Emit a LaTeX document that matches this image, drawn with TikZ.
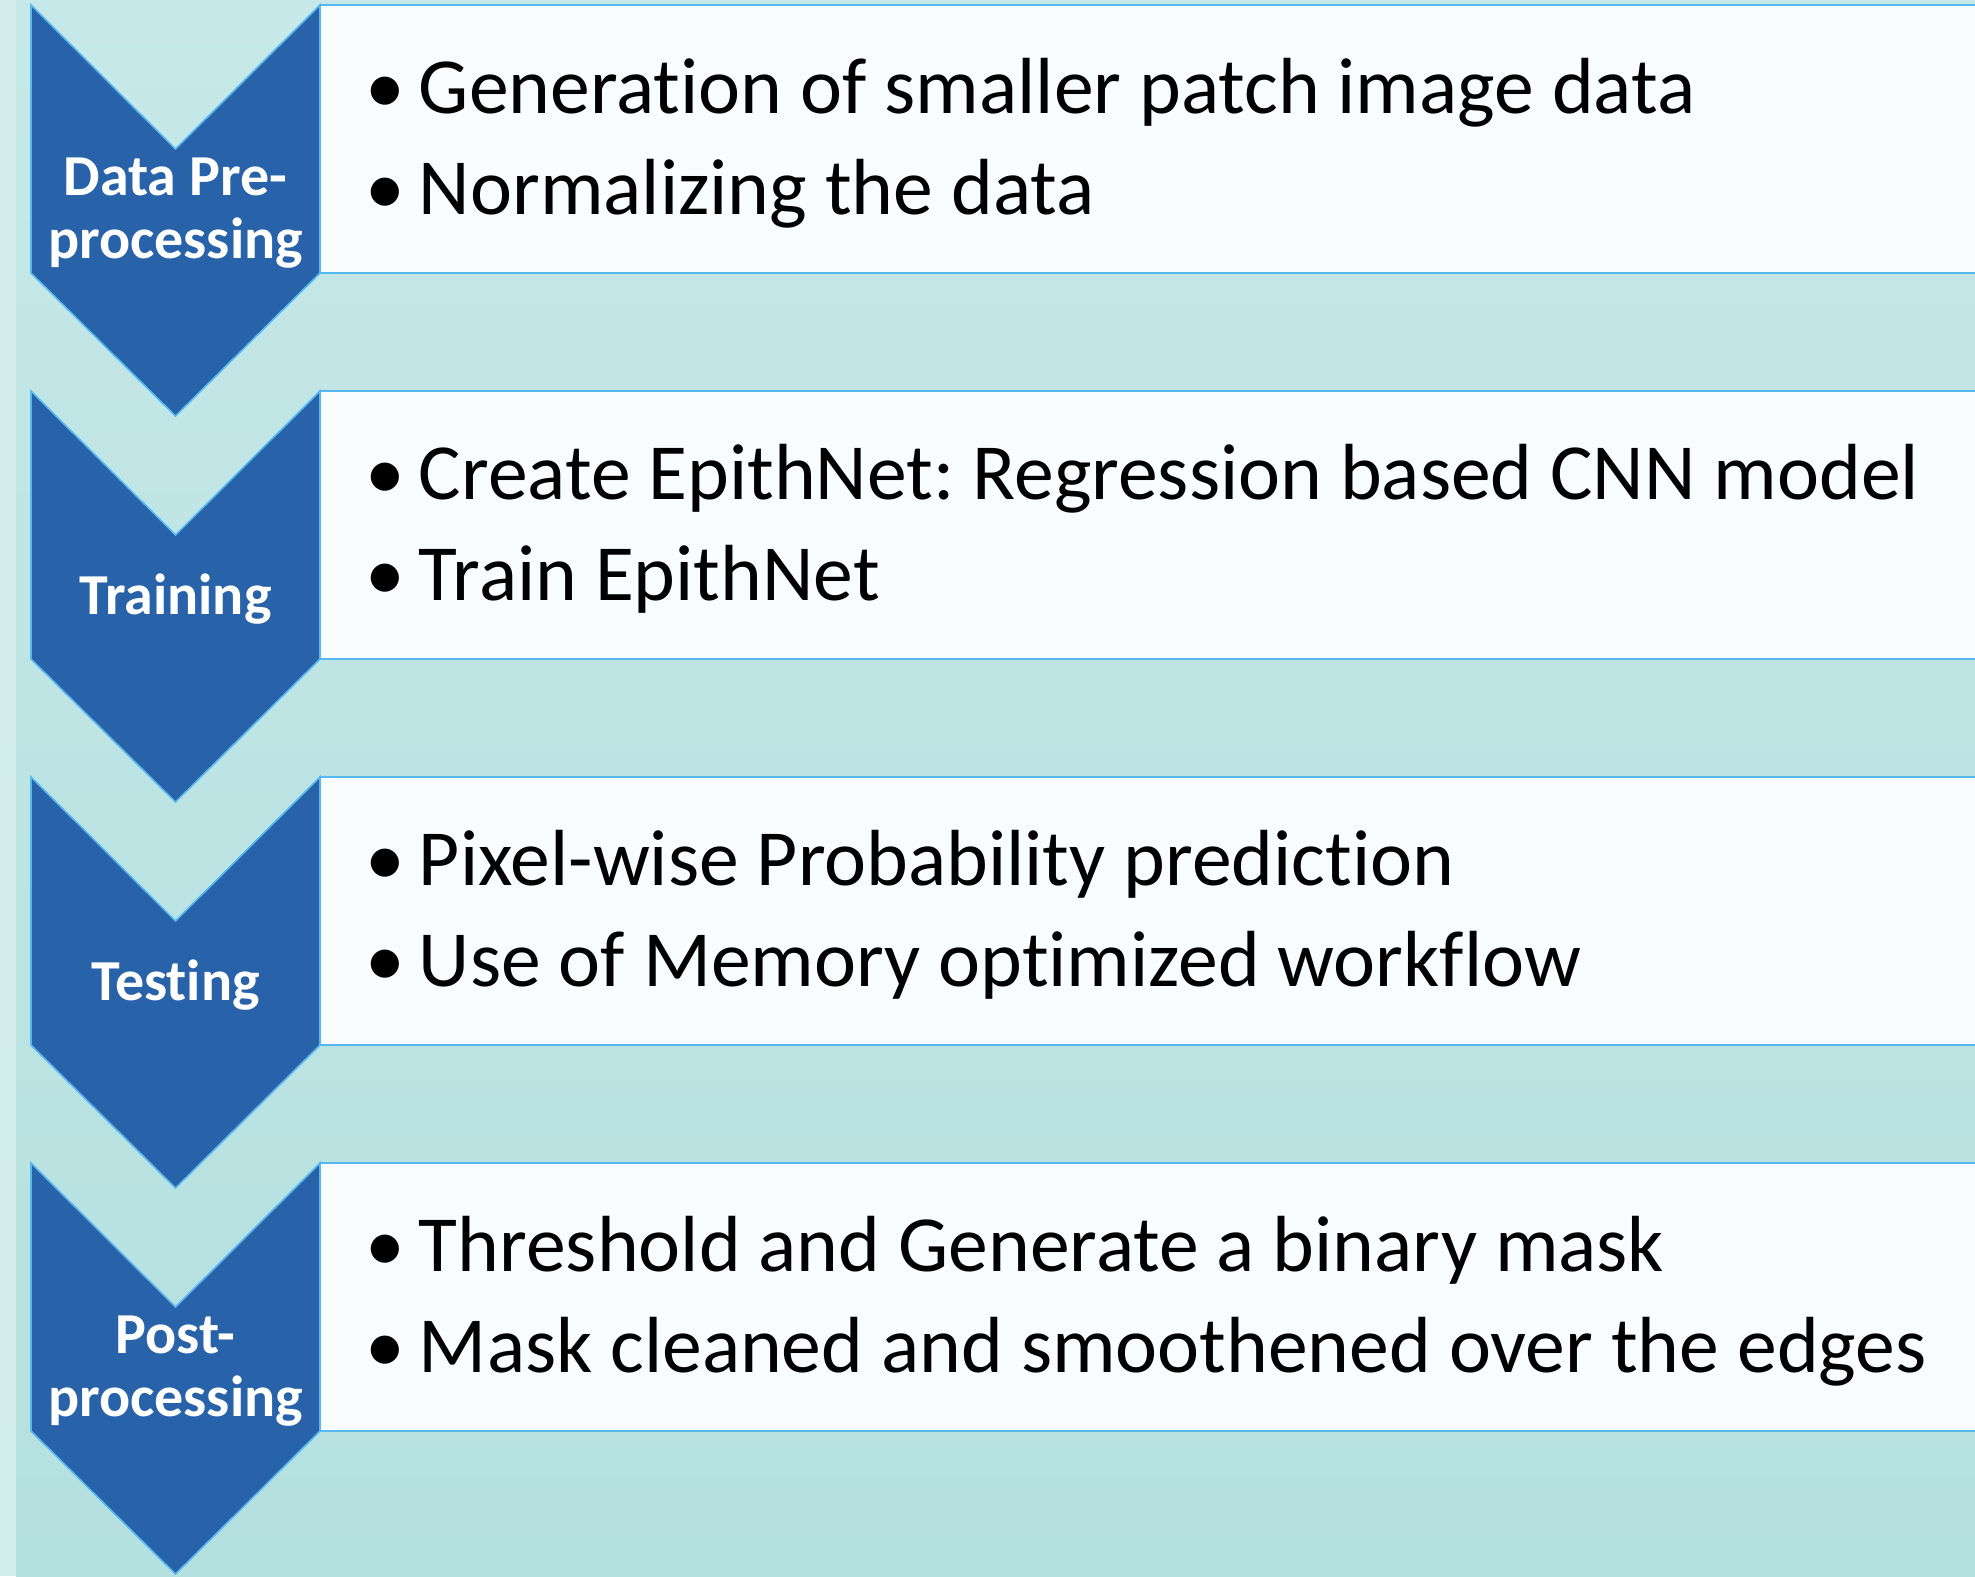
\documentclass[tikz,border=0pt]{standalone}
\usepackage{fontspec}
\setmainfont{Carlito}[Ligatures={NoCommon}]
\usepackage{tikz}
\usetikzlibrary{positioning, calc}
\definecolor{chevblue}{HTML}{2862A9}
\definecolor{edgeblue}{HTML}{55B8F0}
\definecolor{tealtop}{HTML}{C6E8E8}
\definecolor{tealbot}{HTML}{B4E0DF}
\definecolor{stripteal}{HTML}{D3EDED}
\definecolor{boxwhite}{HTML}{F8FCFD}
\tikzstyle{stagebox} = [draw=edgeblue, fill=boxwhite, line width=1pt, rectangle, minimum width=835pt, minimum height=134pt, inner sep=0pt, outer sep=0pt, anchor=north west]
\tikzstyle{chevron} = [draw=edgeblue, fill=chevblue, line width=0.8pt, line join=miter]
\tikzstyle{stagelabel} = [text=white, font=\fontsize{29}{31.5}\selectfont\bfseries, align=center, inner sep=0pt]
\tikzstyle{itemtext} = [font=\fontsize{39.8}{50}\selectfont, anchor=base west, inner sep=0pt]

\frenchspacing
\begin{document}
\begin{tikzpicture}[x=0.5pt, y=-0.5pt, node distance=59pt]
    \useasboundingbox (0,0) rectangle (1975,1576);
    % background
    \fill [stripteal] (0,0) rectangle (16,1576);
    \shade [top color=tealtop, bottom color=tealbot] (16,0) rectangle (1975,1576);

    % text panels
    \node (b1) [stagebox] at (320,5) {};
    \node (b2) [stagebox, below=of b1] {};
    \node (b3) [stagebox, below=of b2] {};
    \node (b4) [stagebox, below=of b3] {};

    % chevrons
    \draw [chevron] ($(b1.north west)+(-289,0)$) -- ($(b1.north west)+(-144.5,144)$) -- (b1.north west) -- (b1.south west) -- ($(b1.south west)+(-144.5,143)$) -- ($(b1.south west)+(-289,0)$) -- cycle;
    \draw [chevron] ($(b2.north west)+(-289,0)$) -- ($(b2.north west)+(-144.5,144)$) -- (b2.north west) -- (b2.south west) -- ($(b2.south west)+(-144.5,143)$) -- ($(b2.south west)+(-289,0)$) -- cycle;
    \draw [chevron] ($(b3.north west)+(-289,0)$) -- ($(b3.north west)+(-144.5,144)$) -- (b3.north west) -- (b3.south west) -- ($(b3.south west)+(-144.5,143)$) -- ($(b3.south west)+(-289,0)$) -- cycle;
    \draw [chevron] ($(b4.north west)+(-289,0)$) -- ($(b4.north west)+(-144.5,144)$) -- (b4.north west) -- (b4.south west) -- ($(b4.south west)+(-144.5,143)$) -- ($(b4.south west)+(-289,0)$) -- cycle;

    % stage names
    \node (l1) [stagelabel] at ($(b1.south west)+(-144.5,-60)$) {Data Pre-\\processing};
    \node (l2) [stagelabel] at ($(b2.south west)+(-144.5,-60)$) {Training};
    \node (l3) [stagelabel] at ($(b3.south west)+(-144.5,-60)$) {Testing};
    \node (l4) [stagelabel] at ($(b4.south west)+(-144.5,-60)$) {Post-\\processing};

    % bullet items
    \node (i1a) [itemtext] at ($(b1.north west)+(45,108)$) {•\hspace{7pt}Generation of smaller patch image data};
    \node (i1b) [itemtext] at ($(b1.north west)+(45,209)$) {•\hspace{7pt}Normalizing the data};
    \node (i2a) [itemtext] at ($(b2.north west)+(45,108)$) {•\hspace{7pt}Create EpithNet: Regression based CNN model};
    \node (i2b) [itemtext] at ($(b2.north west)+(45,209)$) {•\hspace{7pt}Train EpithNet};
    \node (i3a) [itemtext] at ($(b3.north west)+(45,108)$) {•\hspace{7pt}Pixel-wise Probability prediction};
    \node (i3b) [itemtext] at ($(b3.north west)+(45,209)$) {•\hspace{7pt}Use of Memory optimized workflow};
    \node (i4a) [itemtext] at ($(b4.north west)+(45,108)$) {•\hspace{7pt}Threshold and Generate a binary mask};
    \node (i4b) [itemtext] at ($(b4.north west)+(45,209)$) {•\hspace{7pt}Mask cleaned and smoothened over the edges};
\end{tikzpicture}
\end{document}
